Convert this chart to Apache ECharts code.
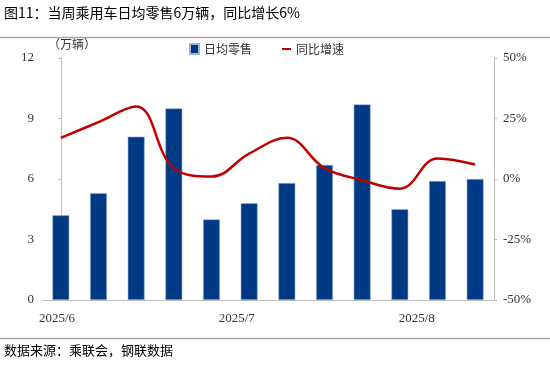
<!DOCTYPE html>
<html><head><meta charset="utf-8">
<script src="https://cdn.jsdelivr.net/npm/echarts@6/dist/echarts.min.js"></script>
<style>html,body{margin:0;padding:0;background:#fff}#c{width:550px;height:367px}</style>
</head><body><div id="c"></div>
<script>
const categories = ['1','2','3','4','5','6','7','8','9','10','11','12'];
const dailyRetail = [4.2, 5.3, 8.1, 9.5, 4.0, 4.8, 5.8, 6.7, 9.7, 4.5, 5.9, 6.0];
const yoyGrowth = [17, 23.5, 30, 4.5, 1, 10.5, 17, 4.5, -0.5, -4, 8.5, 6];
const dateTickLabels = ['2025/6', '2025/7', '2025/8'];
const dateTickPositions = [-0.1, 4.67, 9.45];
const leftTicks = [0, 3, 6, 9, 12];
const rightTicks = [-50, -25, 0, 25, 50];

const serif = '"Liberation Serif", "Times New Roman", serif';
const cjk = '"Noto Sans CJK SC", sans-serif';
const chart = echarts.init(document.getElementById('c'), null, {renderer: 'canvas'});
chart.setOption({
  animation: false,
  graphic: [
    {type: 'text', left: 4, top: 6, style: {text: '图11：当周乘用车日均零售6万辆，同比增长6%', font: '14px ' + cjk, fill: '#000'}},
    {type: 'line', shape: {x1: 0, y1: 37.5, x2: 550, y2: 37.5}, style: {stroke: '#a6a6a6', lineWidth: 1.5}},
    {type: 'text', left: 48, top: 38, style: {text: '（万辆）', font: '12px ' + cjk, fill: '#333'}},
    {type: 'line', shape: {x1: 0, y1: 338.5, x2: 550, y2: 338.5}, style: {stroke: '#a6a6a6', lineWidth: 1.5}},
    {type: 'text', left: 4, top: 344, style: {text: '数据来源：乘联会，钢联数据', font: '13px ' + cjk, fill: '#000'}}
  ],
  legend: {
    top: 38, left: 184, itemGap: 30, itemWidth: 9, itemHeight: 10,
    textStyle: {fontFamily: cjk, fontSize: 12, color: '#333'},
    data: [
      {name: '日均零售', icon: 'rect'},
      {name: '同比增速', icon: 'path://M0,4h9v2h-9z', itemStyle: {color: '#c00000'}}
    ]
  },
  grid: {left: 42, right: 56, top: 58, bottom: 67},
  xAxis: [
    {type: 'category', data: categories, boundaryGap: true,
     axisLine: {lineStyle: {color: '#bfbfbf', width: 1}},
     axisTick: {show: false}, axisLabel: {show: false}},
    {type: 'value', min: -0.5, max: 11.5, position: 'bottom',
     axisLine: {show: false}, axisTick: {show: false}, splitLine: {show: false},
     axisLabel: {customValues: dateTickPositions, margin: 12,
       formatter: v => { const i = dateTickPositions.findIndex(p => Math.abs(p - v) < 1e-6); return i >= 0 ? dateTickLabels[i] : ''; },
       fontFamily: serif, fontSize: 13, color: '#333'}}
  ],
  yAxis: [
    {type: 'value', min: 0, max: 12, interval: 3, position: 'left',
     axisLine: {show: true, lineStyle: {color: '#bfbfbf'}},
     axisTick: {show: true, length: 3, lineStyle: {color: '#bfbfbf'}},
     splitLine: {show: false},
     axisLabel: {fontFamily: serif, fontSize: 13, color: '#333', margin: 8,
       formatter: v => leftTicks.includes(v) ? String(v) : ''}},
    {type: 'value', min: -50, max: 50, interval: 25, position: 'right',
     axisLine: {show: true, lineStyle: {color: '#bfbfbf'}},
     axisTick: {show: true, length: 3, lineStyle: {color: '#bfbfbf'}},
     splitLine: {show: false},
     axisLabel: {fontFamily: serif, fontSize: 13, color: '#333', margin: 9,
       formatter: v => rightTicks.includes(v) ? v + '%' : ''}}
  ],
  series: [
    {name: '日均零售', type: 'bar', xAxisIndex: 0, yAxisIndex: 0, data: dailyRetail, barWidth: '45%',
     itemStyle: {color: '#003a85', borderColor: '#9fb3d6', borderWidth: 0.6}},
    {name: '同比增速', type: 'line', xAxisIndex: 0, yAxisIndex: 1, data: yoyGrowth, smooth: 0.4,
     symbol: 'none', lineStyle: {color: '#c00000', width: 2.5}, itemStyle: {color: '#c00000'}}
  ]
});
</script></body></html>
